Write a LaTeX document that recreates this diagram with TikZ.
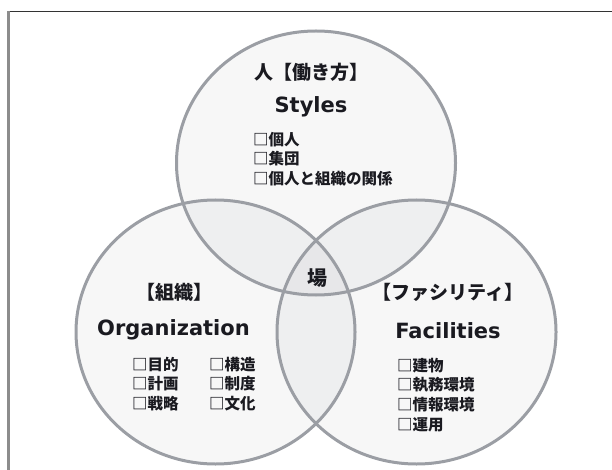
\documentclass[tikz,border=0pt]{standalone}
\usepackage{fontspec}
\setmainfont{Noto Sans CJK JP}
\newfontfamily\latinfont{DejaVu Sans}
\definecolor{venngray}{RGB}{155, 158, 164}
\definecolor{vennfill}{RGB}{40, 45, 60}
\definecolor{inkdark}{RGB}{26, 26, 32}
\usetikzlibrary{positioning}

\begin{document}
\begin{tikzpicture}[x=1pt, y=-1pt,
    venn/.style={fill=vennfill, fill opacity=0.04},
    vennline/.style={draw=venngray, line width=3pt},
    heading/.style={inner sep=0pt, text=inkdark, font=\fontsize{19}{22}\selectfont\bfseries},
    title/.style={inner sep=0pt, text=inkdark, font=\latinfont\fontsize{21}{24}\selectfont\bfseries},
    items/.style={inner sep=0pt, anchor=west, align=left, text=inkdark, font=\fontsize{15.5}{19.8}\selectfont\bfseries}]
  \useasboundingbox (0,0) rectangle (612,470);
  % frame
  \draw[draw=black!80, line width=1.5pt] (8,11.5) -- (612,11.5);
  \draw[draw=black!45, line width=2.5pt] (8.5,11) -- (8.5,470);

  % circles
  \coordinate (people) at (316,163);
  \coordinate (org) at (215.5,332);
  \coordinate (fac) at (416.5,332);
  \fill[venn] (people) ellipse [x radius=139.5, y radius=132];
  \fill[venn] (org) ellipse [x radius=139.5, y radius=132];
  \fill[venn] (fac) ellipse [x radius=139.5, y radius=132];
  \draw[vennline] (people) ellipse [x radius=139.5, y radius=132];
  \draw[vennline] (org) ellipse [x radius=139.5, y radius=132];
  \draw[vennline] (fac) ellipse [x radius=139.5, y radius=132];

  % people
  \node[heading] (peopleJa) at (311,72) {人【働き方】};
  \node[title] (peopleEn) at (311,107) {Styles};
  \node[items] (peopleList) at (253,159) {□個人\\□集団\\□個人と組織の関係};

  % organization
  \node[heading] (orgJa) at (174,292) {【組織】};
  \node[title] (orgEn) at (173.5,330) {Organization};
  \node[items] (orgListA) at (132,384) {□目的\\□計画\\□戦略};
  \node[items] (orgListB) at (209,384) {□構造\\□制度\\□文化};

  % facilities
  \node[heading] (facJa) at (448,292) {【ファシリティ】};
  \node[title] (facEn) at (448,331) {Facilities};
  \node[items] (facList) at (397,395) {□建物\\□執務環境\\□情報環境\\□運用};

  % center
  \node[heading, font=\fontsize{20}{22}\selectfont\bfseries] (place) at (317,278) {場};
\end{tikzpicture}
\end{document}
